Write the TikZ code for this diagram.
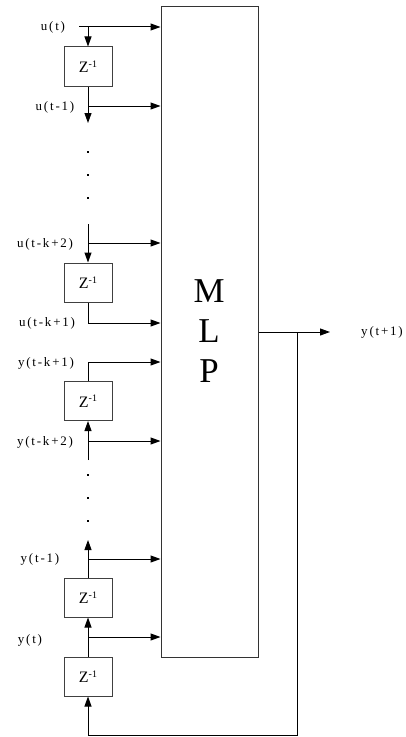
\documentclass[tikz,border=0pt]{standalone}
\usepackage{fontspec}
\setmainfont{Liberation Serif}
\newfontfamily\lblfont{Liberation Serif}[LetterSpace=14]
\usetikzlibrary{arrows.meta}
\begin{document}
\begin{tikzpicture}[x=1bp,y=-1bp,
  line width=1bp,
  >={Triangle[length=10bp,width=7bp]},
  delay/.style={draw=black!75,line width=1bp,fill=white,minimum width=48bp,minimum height=39bp,inner sep=0pt,
    font=\fontsize{16}{16}\selectfont},
  mlpbox/.style={draw=black!80,line width=1bp,minimum width=97bp,minimum height=650bp,inner sep=0pt},
  lbl/.style={font=\lblfont\fontsize{13}{13}\selectfont,inner sep=0pt,anchor=center},
  bigletter/.style={font=\fontsize{35}{35}\selectfont,inner sep=0pt},
  dotmark/.style={fill=black,minimum size=2.6bp,inner sep=0pt,shape=rectangle}]
\useasboundingbox (0,0) rectangle (405,737);
\newcommand{\zinv}{Z\raisebox{5.5bp}{\fontsize{10}{10}\selectfont-1}}
% MLP
\node[mlpbox] (mlp) at (209.5,332) {};
\node[bigletter] (lm) at (209,291) {M};
\node[bigletter] (ll) at (209,331) {L};
\node[bigletter] (lp) at (209,371) {P};
% delay boxes
\node[delay] (z1) at (88,66.5) {\zinv};
\node[delay] (z2) at (88,282.5) {\zinv};
\node[delay] (z3) at (88,401) {\zinv};
\node[delay] (z4) at (88,597.5) {\zinv};
\node[delay] (z5) at (88,676.5) {\zinv};
% coordinates
\coordinate (ut) at (79,27);
\coordinate (ut1) at (88,27);
\coordinate (b1) at (88,106);
\coordinate (e1) at (88,123);
\coordinate (s2) at (88,224);
\coordinate (b2) at (88,243);
\coordinate (c2) at (88,323);
\coordinate (c3) at (88,362);
\coordinate (s3) at (88,460);
\coordinate (b3) at (88,441);
\coordinate (e4) at (88,540);
\coordinate (b4) at (88,559);
\coordinate (b5) at (88,637);
\coordinate (out) at (330,332);
\coordinate (fb) at (297,332);
\coordinate (fb1) at (297,735);
\coordinate (fb2) at (88,735);
% connectors
\draw[->] (ut) -- (mlp.west |- ut);
\draw[->] (ut1) -- (z1.north);
\draw[->] (z1.south) -- (e1);
\draw[->] (b1) -- (mlp.west |- b1);
\draw[->] (s2) -- (z2.north);
\draw[->] (b2) -- (mlp.west |- b2);
\draw[->] (z2.south) -- (c2) -- (mlp.west |- c2);
\draw[->] (z3.north) -- (c3) -- (mlp.west |- c3);
\draw[->] (s3) -- (z3.south);
\draw[->] (b3) -- (mlp.west |- b3);
\draw[->] (z4.north) -- (e4);
\draw[->] (b4) -- (mlp.west |- b4);
\draw[->] (z5.north) -- (z4.south);
\draw[->] (b5) -- (mlp.west |- b5);
\draw[->] (mlp.east |- out) -- (out);
\draw[->] (fb) -- (fb1) -- (fb2) -- (z5.south);
% dots
\node[dotmark] (d1) at (88,152) {};
\node[dotmark] (d2) at (88,175) {};
\node[dotmark] (d3) at (88,198) {};
\node[dotmark] (d4) at (88,475) {};
\node[dotmark] (d5) at (88,498) {};
\node[dotmark] (d6) at (88,521) {};
% labels
\node[lbl] (l1) at (53,27) {u(t)};
\node[lbl] (l2) at (55,107) {u(t-1)};
\node[lbl] (l3) at (45,244) {u(t-k+2)};
\node[lbl] (l4) at (47,323) {u(t-k+1)};
\node[lbl] (l5) at (46,363) {y(t-k+1)};
\node[lbl] (l6) at (45,442) {y(t-k+2)};
\node[lbl] (l7) at (40,559) {y(t-1)};
\node[lbl] (l8) at (30,640) {y(t)};
\node[lbl] (l9) at (382,332) {y(t+1)};
\end{tikzpicture}
\end{document}
